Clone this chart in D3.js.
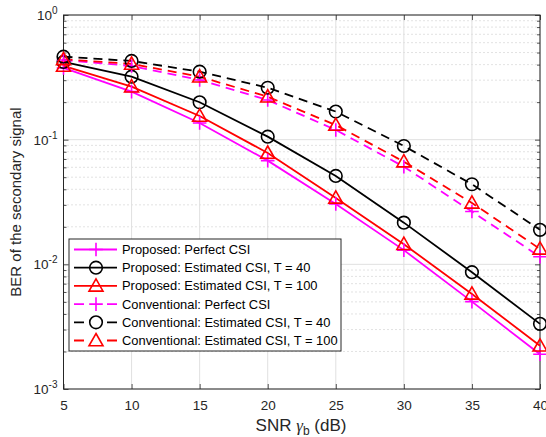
<!DOCTYPE html>
<html>
<head>
<meta charset="utf-8">
<script src="https://cdn.jsdelivr.net/npm/d3@7"></script>
<style>
  html, body { margin: 0; padding: 0; background: #fff; }
  svg { display: block; font-family: "Liberation Sans", Arial, Helvetica, sans-serif; }
</style>
</head>
<body>
<svg id="chart" width="546" height="437"></svg>
<script>
// ---- data ----
const snr = [5, 10, 15, 20, 25, 30, 35, 40];
const propPerfect = [0.376, 0.243, 0.136, 0.0679, 0.0305, 0.0130, 0.00502, 0.0019];
const propT40     = [0.420, 0.320, 0.1995, 0.1057, 0.0512, 0.0216, 0.00865, 0.00333];
const propT100    = [0.390, 0.266, 0.155, 0.0782, 0.0341, 0.0145, 0.00579, 0.00222];
const convPerfect = [0.436, 0.390, 0.301, 0.208, 0.1197, 0.0607, 0.0265, 0.0115];
const convT40     = [0.463, 0.428, 0.351, 0.261, 0.168, 0.089, 0.0439, 0.0189];
const convT100    = [0.441, 0.405, 0.320, 0.221, 0.131, 0.0666, 0.0311, 0.0133];
const seriesNames = [
  "Proposed: Perfect CSI",
  "Proposed: Estimated CSI, T = 40",
  "Proposed: Estimated CSI, T = 100",
  "Conventional: Perfect CSI",
  "Conventional: Estimated CSI, T = 40",
  "Conventional: Estimated CSI, T = 100"
];
const xTicks = [5, 10, 15, 20, 25, 30, 35, 40];
const yTickExps = [0, -1, -2, -3];

const series = [
  {name: seriesNames[0], values: propPerfect, color: "#ff00ff", marker: "plus",     dashed: false},
  {name: seriesNames[1], values: propT40,     color: "#000000", marker: "circle",   dashed: false},
  {name: seriesNames[2], values: propT100,    color: "#ff0000", marker: "triangle", dashed: false},
  {name: seriesNames[3], values: convPerfect, color: "#ff00ff", marker: "plus",     dashed: true},
  {name: seriesNames[4], values: convT40,     color: "#000000", marker: "circle",   dashed: true},
  {name: seriesNames[5], values: convT100,    color: "#ff0000", marker: "triangle", dashed: true}
];

// ---- layout ----
const L = 63.5, R = 540, T = 15, B = 389;
const svg = d3.select("#chart");
const x = d3.scaleLinear().domain([5, 40]).range([L, R]);
const y = d3.scaleLog().domain([1e-3, 1]).range([B, T]);

// minor values
const minorVals = [];
for (let e = -3; e < 0; e++) for (let k = 2; k <= 9; k++) minorVals.push(k * Math.pow(10, e));

// grid
const grid = svg.append("g");
grid.selectAll(".ming").data(minorVals).join("line")
  .attr("x1", L).attr("x2", R).attr("y1", d => y(d)).attr("y2", d => y(d))
  .attr("stroke", "#b8b8b8").attr("stroke-width", 0.8).attr("stroke-dasharray", "1,3");
grid.selectAll(".majy").data(yTickExps.map(e => Math.pow(10, e))).join("line")
  .attr("x1", L).attr("x2", R).attr("y1", d => y(d)).attr("y2", d => y(d))
  .attr("stroke", "#e0e0e0").attr("stroke-width", 1);
grid.selectAll(".majx").data(xTicks).join("line")
  .attr("x1", d => x(d)).attr("x2", d => x(d)).attr("y1", T).attr("y2", B)
  .attr("stroke", "#e0e0e0").attr("stroke-width", 1);

// axes with inward ticks
const axB = svg.append("g").attr("transform", `translate(0,${B})`)
  .call(d3.axisBottom(x).tickValues(xTicks).tickSize(-5).tickPadding(11).tickFormat(d3.format("d")));
const axT = svg.append("g").attr("transform", `translate(0,${T})`)
  .call(d3.axisTop(x).tickValues(xTicks).tickSize(-5).tickFormat(""));
const axL = svg.append("g").attr("transform", `translate(${L},0)`)
  .call(d3.axisLeft(y).tickValues(yTickExps.map(e => Math.pow(10, e))).tickSize(-5).tickFormat(""));
const axR = svg.append("g").attr("transform", `translate(${R},0)`)
  .call(d3.axisRight(y).tickValues(yTickExps.map(e => Math.pow(10, e))).tickSize(-5).tickFormat(""));
const axLm = svg.append("g").attr("transform", `translate(${L},0)`)
  .call(d3.axisLeft(y).tickValues(minorVals).tickSize(-3).tickFormat(""));
const axRm = svg.append("g").attr("transform", `translate(${R},0)`)
  .call(d3.axisRight(y).tickValues(minorVals).tickSize(-3).tickFormat(""));
[axB, axT, axL, axR, axLm, axRm].forEach(g => {
  g.select(".domain").remove();
  g.selectAll("line").attr("stroke", "#262626").attr("stroke-width", 0.8);
  g.selectAll("text").attr("fill", "#262626").style("font-size", "13.5px")
    .style("font-family", '"Liberation Sans", Arial, sans-serif');
});

// y tick labels 10^e
yTickExps.forEach(e => {
  const t = svg.append("text").attr("x", L - 6).attr("y", y(Math.pow(10, e)) + 5)
    .attr("text-anchor", "end").attr("fill", "#262626").style("font-size", "13.5px");
  t.append("tspan").text("10");
  t.append("tspan").attr("dy", -6).style("font-size", "10px").text(String(e));
});

// box
svg.append("rect").attr("x", L).attr("y", T).attr("width", R - L).attr("height", B - T)
  .attr("fill", "none").attr("stroke", "#262626").attr("stroke-width", 1);

// marker drawing
function drawMarker(g, type, cx, cy, color) {
  if (type === "circle") {
    g.append("circle").attr("cx", cx).attr("cy", cy).attr("r", 6.3)
      .attr("fill", "none").attr("stroke", color).attr("stroke-width", 1.6);
  } else if (type === "triangle") {
    const h = 7;
    g.append("path").attr("d", `M${cx},${cy - h} L${cx + h},${cy + h * 0.75} L${cx - h},${cy + h * 0.75} Z`)
      .attr("fill", "none").attr("stroke", color).attr("stroke-width", 1.6);
  } else {
    const s = 6.8;
    g.append("path").attr("d", `M${cx - s},${cy} H${cx + s} M${cx},${cy - s} V${cy + s}`)
      .attr("fill", "none").attr("stroke", color).attr("stroke-width", 1.6);
  }
}

// lines
const line = d3.line().x((d, i) => x(snr[i])).y(d => y(d));
const plotG = svg.append("g");
series.forEach(s => {
  plotG.append("path").datum(s.values).attr("d", line)
    .attr("fill", "none").attr("stroke", s.color).attr("stroke-width", 1.8)
    .attr("stroke-dasharray", s.dashed ? "9,6" : null);
});
series.forEach(s => {
  const g = plotG.append("g");
  s.values.forEach((v, i) => drawMarker(g, s.marker, x(snr[i]), y(v), s.color));
});

// legend
const lgX = 69, lgY = 239, lgW = 272, lgH = 112, rowH = 18.2;
const lg = svg.append("g");
lg.append("rect").attr("x", lgX).attr("y", lgY).attr("width", lgW).attr("height", lgH)
  .attr("fill", "#fff").attr("stroke", "#262626").attr("stroke-width", 1);
series.forEach((s, i) => {
  const cy = lgY + 10.5 + i * rowH;
  lg.append("line").attr("x1", 74).attr("x2", 117).attr("y1", cy).attr("y2", cy)
    .attr("stroke", s.color).attr("stroke-width", 1.8)
    .attr("stroke-dasharray", s.dashed ? "10,23,10" : null);
  drawMarker(lg, s.marker, 96, cy, s.color);
  lg.append("text").attr("x", 122).attr("y", cy + 4.5).attr("fill", "#000")
    .style("font-size", "12.9px").text(s.name);
});

// axis labels
const xl = svg.append("text").attr("x", 301).attr("y", 431).attr("text-anchor", "middle")
  .attr("fill", "#262626").style("font-size", "17px");
xl.append("tspan").text("SNR ");
xl.append("tspan").style("font-family", '"Liberation Serif", "DejaVu Serif", serif').style("font-style", "italic").text("γ");
xl.append("tspan").attr("dy", 4).style("font-size", "12px").text("b");
xl.append("tspan").attr("dy", -4).text(" (dB)");

svg.append("text").attr("transform", `translate(21,${(T + B) / 2}) rotate(-90)`)
  .attr("text-anchor", "middle").attr("fill", "#262626").style("font-size", "15px")
  .text("BER of the secondary signal");
</script>
</body>
</html>
